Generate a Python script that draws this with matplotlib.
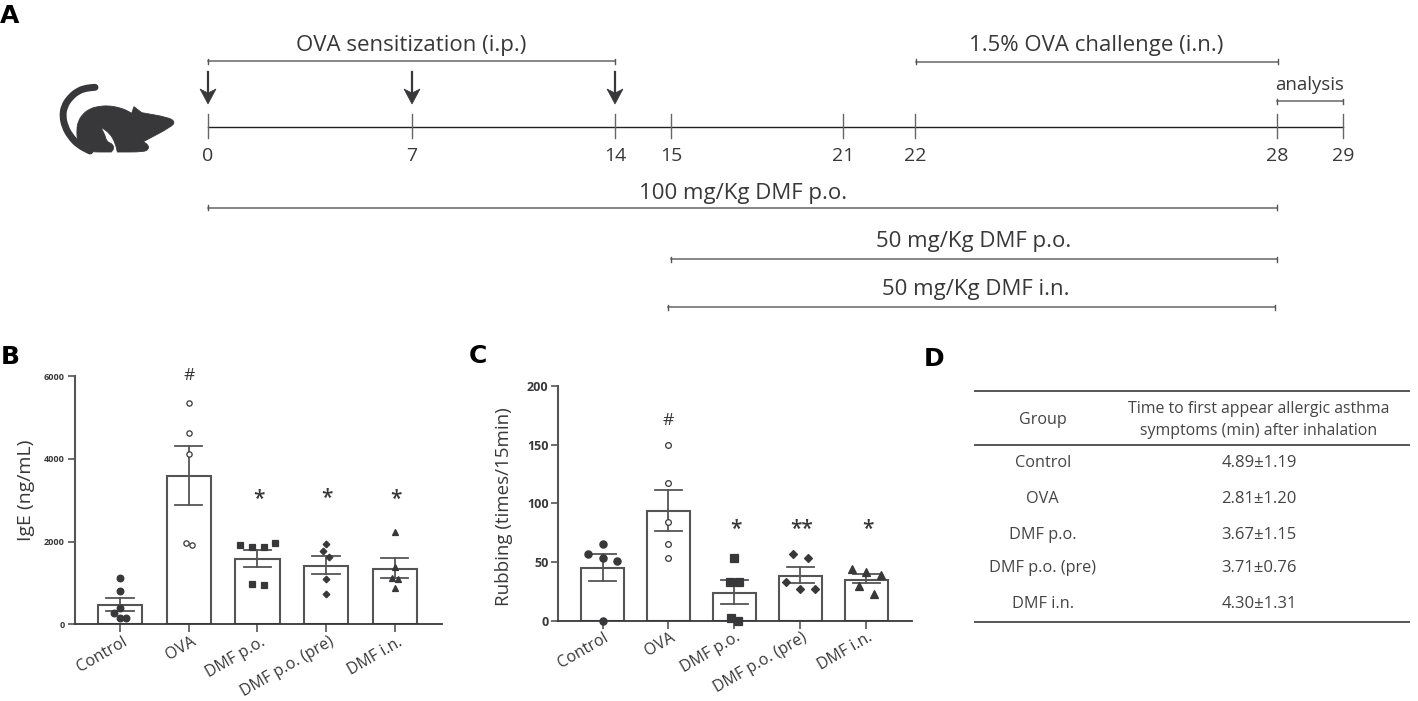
#!/usr/bin/env python3
from __future__ import annotations

import matplotlib

matplotlib.use("Agg")
import matplotlib.pyplot as plt
from matplotlib.patches import PathPatch, Polygon
from matplotlib.path import Path
from matplotlib.transforms import ScaledTranslation

W, H = 1418, 701
DARK = "#38383a"
LINE = "#555555"

groups = ["Control", "OVA", "DMF p.o.", "DMF p.o. (pre)", "DMF i.n."]
markers = ["o", "o", "s", "D", "^"]
marker_fill = [DARK, "white", DARK, DARK, DARK]
marker_size = [4.8, 3.8, 4.7, 3.4, 4.8]

ige_mean = [470, 3582, 1578, 1409, 1336]
ige_upper = [640, 4300, 1787, 1658, 1594]
ige_lower = [320, 2890, 1393, 1208, 1119]
ige_points = [
    [1127, 813, 386, 266, 145, 145],
    [5353, 4629, 4106, 1956, 1924],
    [1924, 1876, 1860, 1972, 966, 942],
    [1932, 1779, 1618, 1087, 725],
    [2238, 1385, 1127, 1095, 886],
]
ige_jitter = [
    [0, 0, 0, -0.09, 0, 0.09],
    [0, 0, 0, -0.045, 0.045],
    [-0.25, -0.08, 0.09, 0.25, -0.08, 0.09],
    [0, -0.045, 0.045, 0, 0],
    [0, 0, -0.045, 0.045, 0],
]
ige_marks = ["", "#", "*", "*", "*"]

rub_mean = [45, 93.4, 23.8, 38.8, 35.4]
rub_upper = [57.4, 111.5, 34.8, 46.4, 39.9]
rub_lower = [34, 76.4, 14.4, 32.8, 32.3]
rub_points = [
    [66, 57, 54, 51, 0],
    [150, 117, 84, 66, 54],
    [54, 33, 33, 3, 0.5],
    [57, 54, 33, 27, 27],
    [44.7, 42, 39, 30, 23.5],
]
rub_jitter = [
    [0, -0.227, 0, 0.222, 0],
    [0, 0, 0, 0, 0],
    [0, -0.065, 0.065, -0.055, 0.055],
    [-0.11, 0.11, -0.22, 0, 0.22],
    [-0.22, 0, 0.22, -0.11, 0.11],
]
rub_marks = ["", "#", "*", "**", "*"]

# the timeline is not to scale, so each day has its own pixel position
timeline_days = ["0", "7", "14", "15", "21", "22", "28", "29"]
timeline_px = [208, 412, 615, 671, 843, 915, 1277, 1343]
arrow_px = [208, 412, 615]

bracket_labels = [
    "OVA sensitization (i.p.)",
    "1.5% OVA challenge (i.n.)",
    "analysis",
    "100 mg/Kg DMF p.o.",
    "50 mg/Kg DMF p.o.",
    "50 mg/Kg DMF i.n.",
]
bracket_start = [208, 916, 1277, 208, 671, 668]
bracket_end = [615, 1278, 1343, 1277, 1277, 1275]
bracket_y = [61, 61.5, 101, 207.5, 259, 307]
bracket_text_y = [45, 45, 85, 194, 241, 290]
bracket_text_x = [411, 1096, 1310, 743, 974, 976]
bracket_size = [16, 16, 13.4, 16, 16, 16]

table_groups = ["Control", "OVA", "DMF p.o.", "DMF p.o. (pre)", "DMF i.n."]
table_values = ["4.89±1.19", "2.81±1.20", "3.67±1.15", "3.71±0.76", "4.30±1.31"]
table_rows_y = [463, 499, 535, 568, 604]

# doubled points stay sharp when the outline is smoothed
mouse_body = [
    (110, 180), (114, 155), (128, 132), (150, 116), (175, 109), (205, 107), (235, 112),
    (258, 120), (275, 130), (275, 130), (282, 110), (282, 110), (305, 128), (305, 128), (385, 142),
    (405, 155), (395, 170), (310, 215), (310, 215), (325, 225), (326, 238), (310, 246), (232, 246), (232, 246),
    (226, 220), (210, 190), (182, 171), (182, 171), (195, 195), (200, 215), (218, 222), (222, 236),
    (214, 246), (214, 246), (150, 246), (125, 238), (112, 215),
]
mouse_tail = [
    (165, 52), (140, 54), (115, 62), (90, 82), (72, 110), (68, 140), (75, 170), (90, 198),
    (115, 225), (150, 243),
]

plt.rcParams["font.family"] = ["Open Sans", "DejaVu Sans"]


def px_axes(fig: plt.Figure, left: float, right: float, top: float, bottom: float) -> plt.Axes:
    return fig.add_axes([left / W, 1 - bottom / H, (right - left) / W, (bottom - top) / H])


def mouse_px(points: list[tuple[int, int]]) -> list[tuple[float, float]]:
    return [(40 + zx / 3, 70 + zy / 3) for zx, zy in points]


def smooth_path(points: list[tuple[float, float]], *, closed: bool) -> Path:
    if closed:
        first = ((points[-1][0] + points[0][0]) / 2, (points[-1][1] + points[0][1]) / 2)
        verts, codes = [first], [Path.MOVETO]
        loop = points + [points[0]]
    else:
        verts, codes = [points[0]], [Path.MOVETO]
        loop = points
    for a, b in zip(loop[:-1], loop[1:]):
        verts += [a, ((a[0] + b[0]) / 2, (a[1] + b[1]) / 2)]
        codes += [Path.CURVE3, Path.CURVE3]
    if not closed:
        verts.append(points[-1])
        codes.append(Path.LINETO)
    return Path(verts, codes)


def bar_panel(ax, mean, upper, lower, points, jitter, marks, ylim, yticks, ylabel, xlim, mark_y, tick_fs, label_fs, label_x, label_y, pad, shift, ms_scale):
    x = range(len(groups))
    ax.bar(x, mean, width=0.645, facecolor="white", edgecolor=LINE, linewidth=1.5, zorder=2)
    for i in x:
        ax.plot([i, i], [lower[i], upper[i]], color=LINE, lw=1.3, zorder=3)
        ax.plot([i - 0.2, i + 0.2], [upper[i], upper[i]], color=LINE, lw=1.3, zorder=3)
        ax.plot([i - 0.2, i + 0.2], [lower[i], lower[i]], color=LINE, lw=1.3, zorder=3)
        xs = [i + off for off in jitter[i]]
        ax.plot(
            xs,
            points[i],
            ls="none",
            marker=markers[i],
            ms=marker_size[i] * ms_scale,
            mfc=marker_fill[i],
            mec=DARK,
            mew=0.9,
            zorder=4,
            clip_on=False,
        )
        if marks[i] == "#":
            ax.text(i, mark_y[i], marks[i], ha="center", va="center", fontsize=12.5, color=DARK, clip_on=False)
        elif marks[i]:
            ax.text(i + 0.02, mark_y[i], marks[i], ha="center", va="center", fontsize=15, fontweight="semibold", color=DARK, clip_on=False)
    ax.set_xlim(*xlim)
    ax.set_ylim(*ylim)
    ax.set_yticks(yticks)
    ax.set_xticks(list(x))
    ax.set_xticklabels(groups, rotation=30, ha="right", rotation_mode="anchor", fontsize=11.5, color=DARK)
    ax.tick_params(axis="x", length=6, width=1.2, color=LINE, pad=pad)
    ax.tick_params(axis="y", length=5, width=1.2, color=LINE, pad=2, labelsize=tick_fs, labelcolor=DARK)
    # tick_params resets label transforms, so the shift has to come after it
    offset = ScaledTranslation(shift / 100, 0, ax.figure.dpi_scale_trans)
    for tick in ax.get_xticklabels():
        tick.set_transform(tick.get_transform() + offset)
    for tick in ax.get_yticklabels():
        tick.set_fontweight("bold")
    for side in ("top", "right"):
        ax.spines[side].set_visible(False)
    ax.spines["left"].set_linewidth(1.5)
    ax.spines["left"].set_color(LINE)
    ax.spines["bottom"].set_linewidth(1.3)
    ax.spines["bottom"].set_color(DARK)
    ax.set_ylabel(ylabel, fontsize=label_fs, color=DARK)
    ax.yaxis.set_label_coords(label_x, label_y)


fig = plt.figure(figsize=(W / 100, H / 100), dpi=100, facecolor="white")

# panels A and D, drawn on a full-figure layer in pixel units
bg = fig.add_axes([0, 0, 1, 1])
bg.set_xlim(0, W)
bg.set_ylim(H, 0)
bg.axis("off")

for letter, lx, ly in [("A", 10, 16), ("B", 10, 357), ("C", 478, 356), ("D", 934, 359)]:
    bg.text(lx, ly, letter, ha="center", va="center", fontsize=18, fontweight="bold", family="DejaVu Sans", color="black")

bg.plot([timeline_px[0], timeline_px[-1]], [126.5, 126.5], color="#222222", lw=1.0)
for px, day in zip(timeline_px, timeline_days):
    bg.plot([px, px], [114, 138], color="#666666", lw=1.0)
    bg.text(px, 156, day, ha="center", va="center", fontsize=14, color=DARK)
for px in arrow_px:
    bg.plot([px, px], [72, 92], color=DARK, lw=1.6)
    bg.add_patch(Polygon([(px - 8, 89), (px, 93), (px + 8, 89), (px, 104)], closed=True, fc=DARK, ec=DARK, lw=0.5))

for text, x0, x1, y, tx, ty, fs in zip(bracket_labels, bracket_start, bracket_end, bracket_y, bracket_text_x, bracket_text_y, bracket_size):
    bg.plot([x0, x1], [y, y], color="#666666", lw=1.1)
    bg.plot([x0, x0], [y - 2.5, y + 2.5], color="#555555", lw=1.0)
    bg.plot([x1, x1], [y - 2.5, y + 2.5], color="#555555", lw=1.0)
    bg.text(tx, ty, text, ha="center", va="center", fontsize=fs, color=DARK)

bg.add_patch(PathPatch(smooth_path(mouse_px(mouse_body), closed=True), fc=DARK, ec=DARK, lw=0.6))
bg.add_patch(PathPatch(smooth_path(mouse_px(mouse_tail), closed=False), fc="none", ec=DARK, lw=5.0, capstyle="round"))

for y in (390.7, 445, 621.7):
    bg.plot([975, 1409], [y, y], color="#555555", lw=1.4)
bg.text(1042.7, 420, "Group", ha="center", va="center", fontsize=11.6, color="#444444")
bg.text(1259, 409, "Time to first appear allergic asthma", ha="center", va="center", fontsize=11.4, color="#444444")
bg.text(1259, 431, "symptoms (min) after inhalation", ha="center", va="center", fontsize=11.4, color="#444444")
for name, value, y in zip(table_groups, table_values, table_rows_y):
    bg.text(1042.7, y, name, ha="center", va="center", fontsize=11.7, color="#444444")
    bg.text(1259, y, value, ha="center", va="center", fontsize=12, color="#444444")

ax_b = px_axes(fig, 74.5, 441.7, 376, 624.3)
ax_b.patch.set_alpha(0)
bar_panel(
    ax_b, ige_mean, ige_upper, ige_lower, ige_points, ige_jitter, ige_marks,
    (0, 6000), [0, 2000, 4000, 6000], "IgE (ng/mL)", (-0.663, 4.684),
    [0, 6000, 3020, 3030, 3010], 6.5, 14, -0.107, 0.54, 1, 2.5, 1.0,
)

ax_c = px_axes(fig, 558.3, 911.7, 385.7, 621.3)
ax_c.patch.set_alpha(0)
bar_panel(
    ax_c, rub_mean, rub_upper, rub_lower, rub_points, rub_jitter, rub_marks,
    (0, 200), [0, 50, 100, 150, 200], "Rubbing (times/15min)", (-0.671, 4.688),
    [0, 170, 78, 78, 78], 9, 13.5, -0.128, 0.485, 0, 1, 1.08,
)

fig.savefig("out.png", dpi=100)
plt.close(fig)
